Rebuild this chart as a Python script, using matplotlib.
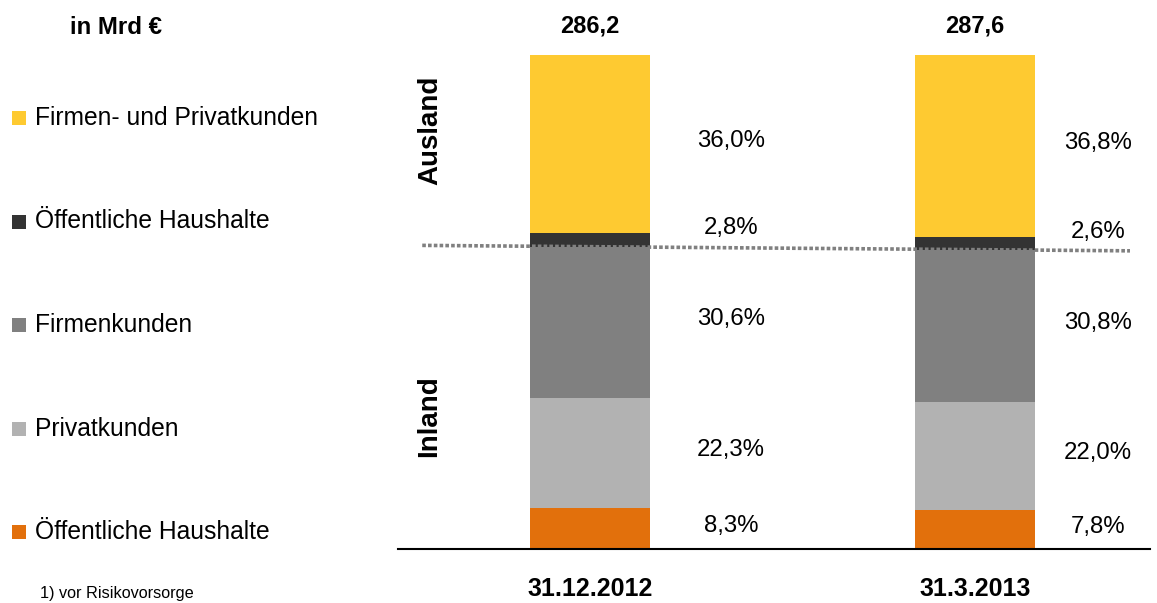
import matplotlib
matplotlib.use("Agg")
import matplotlib.pyplot as plt
from matplotlib.patches import Rectangle
import numpy as np

# ---- data ----
dates = ["31.12.2012", "31.3.2013"]
totals = ["286,2", "287,6"]
segments = ["Öffentliche Haushalte (Inland)", "Privatkunden", "Firmenkunden",
            "Öffentliche Haushalte (Ausland)", "Firmen- und Privatkunden"]
legend_labels = ["Öffentliche Haushalte", "Privatkunden", "Firmenkunden",
                 "Öffentliche Haushalte", "Firmen- und Privatkunden"]
values_2012 = [8.3, 22.3, 30.6, 2.8, 36.0]
values_2013 = [7.8, 22.0, 30.8, 2.6, 36.8]
colors = ["#E2700C", "#B2B2B2", "#808080", "#333333", "#FECA31"]

W, H = 1157, 603
plt.rcParams['font.family'] = ['Liberation Sans', 'DejaVu Sans']

fig = plt.figure(figsize=(W / 100, H / 100), dpi=100)
ax = fig.add_axes([398 / W, 54 / H, 752 / W, 494 / H])

def fx(px):
    return px / W

def fy(py):
    return 1 - py / H

data = np.array([values_2012, values_2013])
x = np.arange(len(dates))
bar_w = 0.312
label_dx = [0.366, 0.32]

bottoms = np.zeros(len(dates))
for j in range(len(segments)):
    vals = data[:, j]
    ax.bar(x, vals, bottom=bottoms, width=bar_w, color=colors[j], linewidth=0)
    for i in range(len(dates)):
        txt = f"{vals[i]:.1f}%".replace(".", ",")
        if vals[i] < 5:
            ypos = bottoms[i] + vals[i] + 1.0
        else:
            ypos = bottoms[i] + vals[i] / 2 + 0.6
        ax.text(x[i] + label_dx[i], ypos, txt, ha="center", va="center",
                fontsize=17.3, color="black")
    bottoms = bottoms + vals

# totals on top
for i in range(len(dates)):
    ax.text(x[i], 100 + 22 / 4.94, totals[i], ha="center", va="baseline",
            fontsize=17, fontweight="bold")

# dotted Inland/Ausland separator through the boundary of segments
bnd = data[:, :3].sum(axis=1)
slope = (bnd[1] - bnd[0]) / (x[1] - x[0])
x0, x1 = -0.436, 1.403
ax.plot([x0, x1], [bnd[0] + slope * (x0 - x[0]), bnd[0] + slope * (x1 - x[0])],
        color="#808080", linestyle=(0, (1, 0.6)), linewidth=2.6, zorder=5)

ax.set_xlim(-0.499, 1.455)
ax.set_ylim(0, 100)
ax.set_xticks(x)
ax.set_xticklabels(dates, fontsize=18, fontweight="bold")
ax.tick_params(axis="x", length=0, pad=20)
ax.set_yticks([])
for s in ["top", "right", "left"]:
    ax.spines[s].set_visible(False)
ax.spines["bottom"].set_linewidth(1.5)
ax.spines["bottom"].set_color("black")

# side labels
fig.text(fx(430), fy(130), "Ausland", rotation=90, ha="center", va="center",
         fontsize=20, fontweight="bold")
fig.text(fx(429), fy(416), "Inland", rotation=90, ha="center", va="center",
         fontsize=20, fontweight="bold")

# header
fig.text(fx(116), fy(34), "in Mrd €", ha="center", va="baseline",
         fontsize=17.3, fontweight="bold")

# legend (top to bottom = reversed stack order)
baselines = [125, 228.5, 332, 435.5, 539]
for k, j in enumerate(range(len(segments) - 1, -1, -1)):
    by = baselines[k]
    fig.patches.append(Rectangle((fx(12), fy(by)), 14 / W, 14 / H,
                                 transform=fig.transFigure, color=colors[j],
                                 linewidth=0))
    fig.text(fx(35), fy(by), legend_labels[j], ha="left", va="baseline",
             fontsize=17.7)

# footnote
fig.text(fx(40), fy(598), "1) vor Risikovorsorge", ha="left", va="baseline",
         fontsize=11.7)

fig.savefig("out.png", dpi=100)
